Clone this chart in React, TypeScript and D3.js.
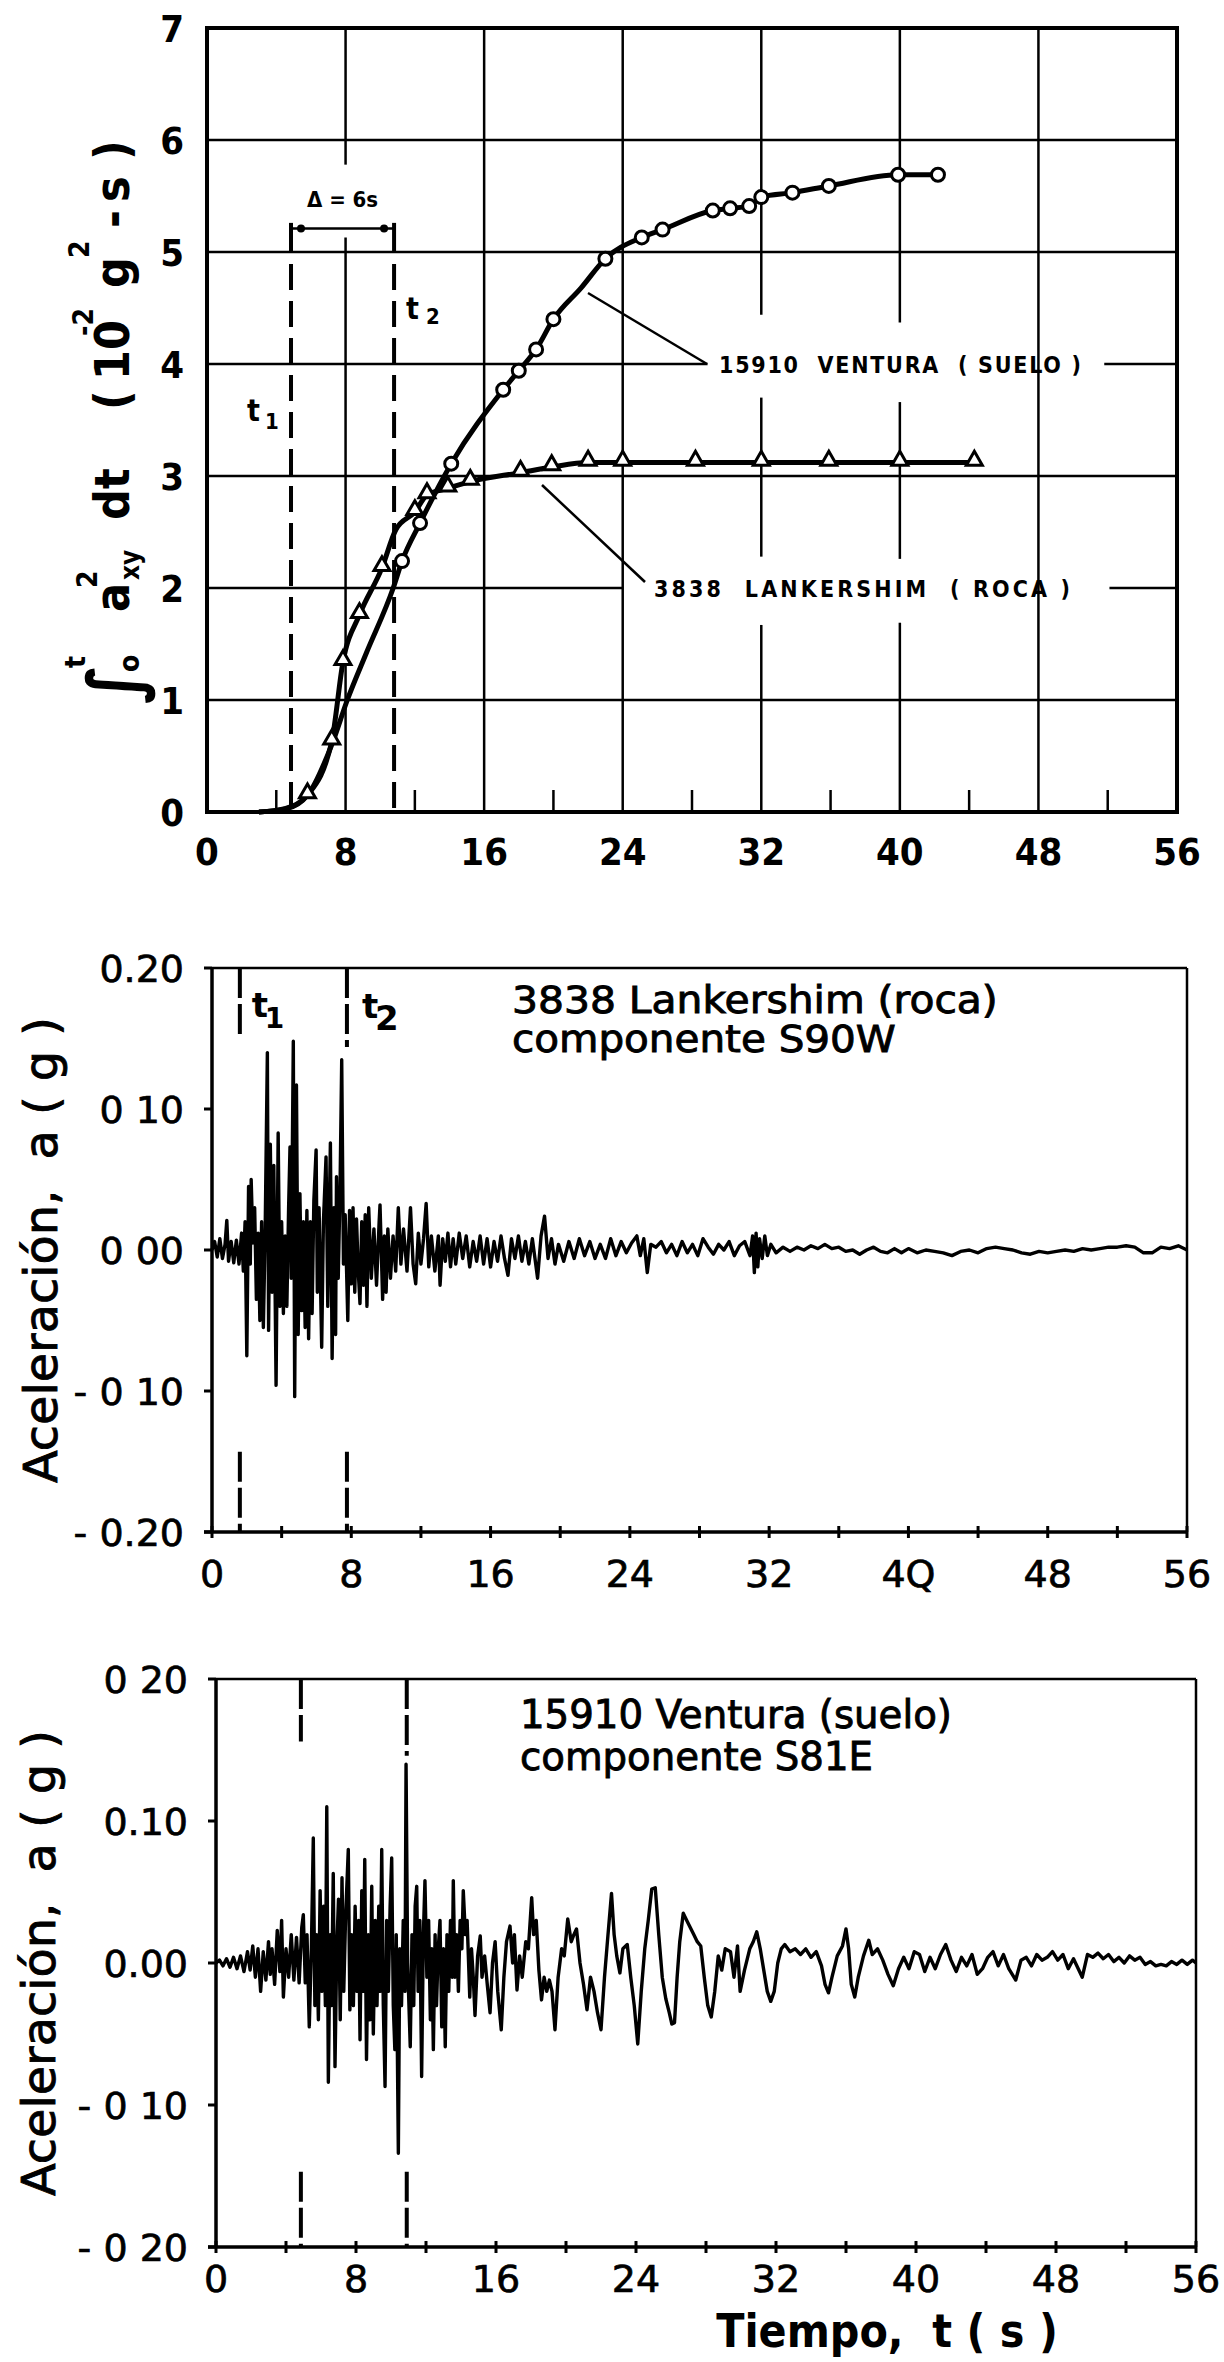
import React, { useEffect, useRef } from "react";
import * as d3 from "d3";

// ---------- top panel: integral of a^2 (10^-2 g^2 s) ----------
const venturaT = [3.0, 4.5, 5.8, 7.2, 8.1, 9.2, 10.75, 11.26, 12.3, 14.1, 17.1, 18.0, 19.0, 20.0, 21.6, 23.0, 25.1, 26.3, 29.2, 30.2, 31.3, 32.0, 33.8, 35.9, 39.9, 42.2];
const venturaV = [0, 0.03, 0.15, 0.6, 1.0, 1.42, 2.0, 2.24, 2.58, 3.11, 3.77, 3.94, 4.13, 4.4, 4.68, 4.94, 5.13, 5.2, 5.37, 5.39, 5.41, 5.49, 5.53, 5.59, 5.69, 5.69];
const venturaMarkT = [11.26, 12.3, 14.1, 17.1, 18.0, 19.0, 20.0, 23.0, 25.1, 26.3, 29.2, 30.2, 31.3, 32.0, 33.8, 35.9, 39.9, 42.2];
const venturaMarkV = [2.24, 2.58, 3.11, 3.77, 3.94, 4.13, 4.4, 4.94, 5.13, 5.2, 5.37, 5.39, 5.41, 5.49, 5.53, 5.59, 5.69, 5.69];

const lankT = [3.0, 4.6, 5.8, 7.2, 7.85, 8.8, 10.1, 10.9, 12.0, 12.7, 13.9, 15.2, 18.1, 19.9, 22.0, 24.0, 28.2, 32.0, 35.9, 40.0, 44.3];
const lankV = [0, 0.03, 0.15, 0.63, 1.34, 1.76, 2.18, 2.52, 2.68, 2.83, 2.89, 2.95, 3.03, 3.08, 3.12, 3.12, 3.12, 3.12, 3.12, 3.12, 3.12];
const lankMarkT = [5.8, 7.2, 7.85, 8.8, 10.1, 12.0, 12.7, 13.9, 15.2, 18.1, 19.9, 22.0, 24.0, 28.2, 32.0, 35.9, 40.0, 44.3];
const lankMarkV = [0.15, 0.63, 1.34, 1.76, 2.18, 2.68, 2.83, 2.89, 2.95, 3.03, 3.08, 3.12, 3.12, 3.12, 3.12, 3.12, 3.12, 3.12];

const topXTicks = [0, 8, 16, 24, 32, 40, 48, 56];
const topXLabels = ["0", "8", "16", "24", "32", "40", "48", "56"];
const topYTicks = [0, 1, 2, 3, 4, 5, 6, 7];
const topMinorTicks = [4, 12, 20, 28, 36, 44, 52];
const topT1T2 = [4.85, 10.8];

// ---------- accelerograms ----------
const accTicks = [0.2, 0.1, 0, -0.1, -0.2];
const midYLabels = ["0.20", "0 10", "0 00", "- 0 10", "- 0.20"];
const botYLabels = ["0 20", "0.10", "0.00", "- 0 10", "- 0 20"];
const midXLabels = ["0", "8", "16", "24", "32", "4Q", "48", "56"];
const botXLabels = ["0", "8", "16", "24", "32", "40", "48", "56"];
const minorT = [4, 12, 20, 28, 36, 44, 52];
const midT1T2 = [1.6, 7.75];
const botT1T2 = [4.85, 10.9];

// 3838 Lankershim, S90W
const lankAccT = [
  0, 0.15, 0.3, 0.45, 0.6, 0.75, 0.85, 0.95, 1.1, 1.25, 1.4, 1.55, 1.7, 1.8, 1.9, 2.0, 2.1, 2.2, 2.25, 2.35,
  2.45, 2.55, 2.65, 2.75, 2.85, 2.95, 3.05, 3.18, 3.25, 3.35, 3.45, 3.55, 3.68, 3.8, 3.9, 4.0, 4.1, 4.2, 4.3, 4.4,
  4.48, 4.55, 4.67, 4.75, 4.85, 4.95, 5.05, 5.15, 5.25, 5.35, 5.45, 5.55, 5.65, 5.75, 5.85, 5.98, 6.05, 6.15, 6.3, 6.4,
  6.55, 6.65, 6.8, 6.9, 7.0, 7.1, 7.15, 7.25, 7.35, 7.45, 7.55, 7.65, 7.8, 7.9, 8.0, 8.1, 8.2, 8.3, 8.4, 8.5,
  8.6, 8.7, 8.8, 8.9, 9.0, 9.15, 9.3, 9.45, 9.6, 9.65, 9.8, 9.9, 10.0, 10.1, 10.25, 10.4, 10.55, 10.7, 10.85, 11.0,
  11.2, 11.4, 11.55, 11.7, 11.85, 12.0, 12.15, 12.3, 12.45, 12.6, 12.8, 13.0, 13.1, 13.25, 13.4, 13.55, 13.7, 13.85, 14.0, 14.2,
  14.4, 14.6, 14.8, 15.0, 15.2, 15.4, 15.6, 15.8, 16.0, 16.2, 16.4, 16.6, 16.8, 17.0, 17.2, 17.4, 17.6, 17.8, 18.0, 18.2,
  18.4, 18.7, 18.9, 19.1, 19.3, 19.5, 19.7, 19.9, 20.2, 20.5, 20.8, 21.1, 21.4, 21.7, 22.0, 22.3, 22.6, 22.9, 23.2, 23.5,
  23.8, 24.1, 24.4, 24.6, 24.8, 25.0, 25.2, 25.5, 25.8, 26.1, 26.4, 26.7, 27.0, 27.3, 27.6, 27.9, 28.2, 28.5, 28.8, 29.1,
  29.4, 29.7, 30.0, 30.3, 30.6, 30.9, 31.05, 31.15, 31.25, 31.35, 31.45, 31.6, 31.75, 31.9, 32.1, 32.4, 32.8, 33.2, 33.6, 34.0,
  34.4, 34.8, 35.2, 35.6, 36.0, 36.4, 36.8, 37.2, 37.6, 38.0, 38.4, 38.8, 39.2, 39.6, 40.0, 40.5, 41.0, 41.5, 42.0, 42.5,
  43.0, 43.5, 44.0, 44.5, 45.0, 45.5, 46.0, 46.5, 47.0, 47.5, 48.0, 48.5, 49.0, 49.5, 50.0, 50.5, 51.0, 51.5, 52.0, 52.5,
  53.0, 53.5, 54.0, 54.5, 55.0, 55.5, 56.0,
];
const lankAccA = [
  0, 0.006, -0.005, 0.008, -0.006, 0.004, 0.021, -0.008, 0.006, -0.009, 0.007, -0.01, 0.012, -0.015, 0.02, -0.075, 0.045, -0.01, 0.05, 0.005,
  0.03, -0.035, 0.012, -0.05, 0.02, -0.055, 0.01, 0.14, -0.057, 0.075, -0.03, 0.06, -0.096, 0.083, -0.04, 0.02, -0.045, 0.01, -0.04, 0.03,
  0.073, -0.02, 0.148, -0.104, 0.117, -0.06, 0.04, -0.043, 0.02, -0.055, 0.028, -0.063, 0.02, -0.045, 0.035, 0.071, -0.03, 0.03, -0.069, 0.02,
  0.066, -0.04, 0.076, -0.077, 0.03, -0.06, 0.052, -0.02, 0.04, 0.135, -0.01, 0.025, -0.05, 0.028, -0.024, 0.03, -0.03, 0.022, -0.015, -0.038,
  0.02, -0.025, 0.025, -0.04, 0.03, -0.02, 0.015, -0.025, 0.02, 0.032, -0.035, 0.01, -0.03, 0.015, -0.02, 0.01, -0.015, 0.03, -0.01, 0.015,
  -0.015, 0.03, -0.01, -0.024, 0.012, -0.01, 0.008, 0.033, -0.012, 0.01, -0.015, 0.01, -0.025, 0.008, -0.008, 0.012, -0.012, 0.008, -0.01, 0.012,
  -0.006, 0.01, -0.012, 0.006, -0.008, 0.01, -0.01, 0.008, -0.012, 0.006, -0.008, 0.01, -0.006, -0.018, 0.008, -0.006, 0.01, -0.008, 0.006, -0.01,
  0.008, -0.02, 0.01, 0.024, -0.006, 0.008, -0.01, 0.004, -0.008, 0.006, -0.006, 0.008, -0.004, 0.006, -0.006, 0.004, -0.006, 0.008, -0.004, 0.006,
  -0.002, 0.005, 0.01, -0.004, 0.008, -0.016, 0.004, 0.002, 0.006, -0.002, 0.004, -0.004, 0.006, -0.002, 0.004, -0.004, 0.008, 0.002, -0.003, 0.004,
  0, 0.006, -0.004, 0.003, 0.006, -0.004, 0.01, -0.016, 0.012, -0.012, 0.008, -0.006, 0.01, -0.004, 0.004, -0.002, 0.002, -0.001, 0.002, 0,
  0.003, 0.001, 0.004, 0.001, 0.002, -0.001, 0, -0.003, 0, 0.002, -0.001, -0.002, 0.001, -0.002, 0.001, -0.002, 0, -0.001, -0.002, -0.004,
  -0.001, 0, -0.002, 0.001, 0.002, 0.001, 0, -0.002, -0.003, -0.001, -0.002, -0.001, 0, -0.001, 0.001, 0, 0.001, 0.002, 0.002, 0.003,
  0.002, -0.002, -0.002, 0.002, 0.001, 0.003, 0,
];

// 15910 Ventura, S81E
const ventAccT = [
  0, 0.2, 0.4, 0.6, 0.8, 1.0, 1.2, 1.4, 1.6, 1.8, 1.95, 2.1, 2.25, 2.4, 2.55, 2.7, 2.85, 3.0, 3.1, 3.2,
  3.35, 3.5, 3.65, 3.75, 3.85, 4.0, 4.15, 4.3, 4.45, 4.6, 4.75, 4.9, 4.99, 5.1, 5.2, 5.33, 5.45, 5.56, 5.65, 5.75,
  5.85, 5.95, 6.05, 6.15, 6.25, 6.33, 6.42, 6.52, 6.6, 6.7, 6.8, 6.9, 7.0, 7.1, 7.2, 7.3, 7.4, 7.56, 7.65, 7.75,
  7.85, 7.95, 8.05, 8.15, 8.23, 8.33, 8.42, 8.5, 8.6, 8.7, 8.8, 8.9, 8.99, 9.1, 9.2, 9.3, 9.38, 9.47, 9.56, 9.66,
  9.75, 9.85, 9.95, 10.04, 10.13, 10.22, 10.3, 10.42, 10.5, 10.6, 10.7, 10.8, 10.86, 10.95, 11.1, 11.2, 11.3, 11.38, 11.47, 11.55,
  11.65, 11.75, 11.85, 11.94, 12.05, 12.15, 12.25, 12.33, 12.42, 12.52, 12.6, 12.7, 12.8, 12.9, 13.0, 13.1, 13.2, 13.3, 13.4, 13.5,
  13.56, 13.65, 13.75, 13.85, 13.95, 14.05, 14.13, 14.25, 14.35, 14.5, 14.6, 14.7, 14.8, 14.95, 15.1, 15.2, 15.35, 15.5, 15.66, 15.8,
  15.95, 16.1, 16.3, 16.45, 16.6, 16.8, 16.95, 17.05, 17.2, 17.35, 17.5, 17.7, 17.85, 18.04, 18.15, 18.3, 18.45, 18.6, 18.75, 18.9,
  19.05, 19.2, 19.37, 19.55, 19.75, 19.9, 20.1, 20.3, 20.45, 20.6, 20.8, 21.0, 21.2, 21.4, 21.6, 21.8, 22.0, 22.2, 22.4, 22.6,
  22.75, 22.9, 23.08, 23.25, 23.5, 23.7, 23.9, 24.1, 24.3, 24.5, 24.7, 24.9, 25.1, 25.3, 25.5, 25.7, 25.9, 26.05, 26.2, 26.35,
  26.5, 26.7, 26.9, 27.1, 27.3, 27.5, 27.7, 27.9, 28.1, 28.3, 28.5, 28.7, 28.9, 29.1, 29.4, 29.6, 29.8, 29.95, 30.2, 30.5,
  30.7, 30.9, 31.1, 31.3, 31.5, 31.7, 31.9, 32.1, 32.3, 32.5, 32.8, 33.1, 33.4, 33.7, 34.0, 34.3, 34.6, 34.8, 35.0, 35.2,
  35.5, 35.8, 36.0, 36.15, 36.3, 36.5, 36.7, 37.0, 37.3, 37.5, 37.8, 38.1, 38.4, 38.7, 39.0, 39.3, 39.6, 39.9, 40.2, 40.5,
  40.8, 41.1, 41.4, 41.7, 42.0, 42.3, 42.6, 42.9, 43.2, 43.5, 43.8, 44.1, 44.4, 44.7, 45.0, 45.3, 45.7, 46.0, 46.3, 46.6,
  46.9, 47.2, 47.5, 47.8, 48.1, 48.4, 48.7, 49.0, 49.5, 49.8, 50.1, 50.4, 50.7, 51.0, 51.3, 51.6, 51.9, 52.2, 52.5, 52.8,
  53.1, 53.4, 53.7, 54.0, 54.3, 54.6, 54.9, 55.2, 55.5, 55.8, 56.0,
];
const ventAccA = [
  0, 0.002, -0.002, 0.003, -0.003, 0.004, -0.004, 0.005, -0.006, 0.008, -0.005, 0.012, -0.01, 0.01, -0.02, 0.008, -0.012, 0.015, -0.008, 0.01,
  -0.015, 0.023, -0.006, 0.03, -0.024, 0.01, -0.01, 0.02, -0.012, 0.018, -0.014, 0.025, 0.034, -0.014, 0.02, -0.045, 0.01, 0.088, -0.03, 0.02,
  -0.04, 0.051, -0.02, 0.04, -0.03, 0.11, -0.084, 0.02, -0.03, 0.063, -0.073, 0.01, 0.045, -0.04, 0.06, -0.02, 0.03, 0.08, -0.033, 0.02,
  -0.03, 0.04, -0.02, 0.03, -0.054, 0.051, -0.02, 0.073, -0.068, 0.02, -0.04, 0.054, -0.05, 0.03, -0.03, 0.04, -0.02, 0.08, -0.03, -0.087,
  0.03, -0.02, 0.04, 0.074, -0.03, -0.061, 0.02, -0.134, 0.01, -0.03, 0.03, -0.02, 0.14, 0, -0.059, 0.02, -0.03, 0.04, 0.054, -0.02,
  0.03, -0.08, 0.02, 0.058, -0.01, 0.03, -0.04, 0.01, -0.061, 0.02, -0.03, 0.01, 0.03, -0.045, 0.01, -0.059, 0.02, -0.02, 0.03, -0.01,
  0.058, -0.01, 0.02, -0.02, 0.03, 0.01, 0.051, 0.02, 0.03, -0.024, 0.01, -0.01, -0.037, 0.005, 0.019, -0.01, 0.005, -0.015, -0.035, 0,
  0.015, -0.02, -0.047, -0.01, 0.015, 0.026, 0, 0.02, -0.019, 0.005, -0.01, 0.015, 0.01, 0.046, 0.02, 0.03, -0.005, -0.026, -0.01, -0.02,
  -0.012, -0.02, -0.047, -0.01, 0.01, 0.005, 0.031, 0.015, 0.02, 0.024, 0, -0.015, -0.033, -0.01, -0.02, -0.035, -0.047, -0.01, 0.02, 0.049,
  0.02, 0.005, -0.007, 0.01, 0.013, -0.01, -0.03, -0.057, -0.02, 0.01, 0.03, 0.052, 0.053, 0.02, -0.01, -0.025, -0.035, -0.043, -0.042, -0.01,
  0.015, 0.035, 0.03, 0.025, 0.02, 0.015, 0.012, -0.01, -0.03, -0.038, -0.02, 0.005, -0.005, 0.01, 0.008, -0.01, 0.012, -0.02, -0.005, 0.01,
  0.015, 0.022, 0.01, -0.005, -0.02, -0.027, -0.02, 0, 0.01, 0.013, 0.008, 0.01, 0.006, 0.01, 0.004, 0.008, -0.002, -0.015, -0.021, -0.01,
  0.005, 0.012, 0.024, 0.01, -0.015, -0.024, -0.01, 0.005, 0.016, 0.006, 0.01, 0.002, -0.008, -0.016, -0.004, 0.004, -0.004, 0.008, 0.006, -0.006,
  0.004, -0.004, 0.006, 0.013, 0.002, -0.006, 0.004, -0.002, 0.006, -0.008, -0.004, 0.004, 0.008, -0.002, 0.006, -0.004, -0.012, 0.002, 0.004, -0.002,
  0.006, 0.002, 0.004, 0.008, 0.002, 0.006, -0.004, 0.003, -0.01, 0.006, 0.004, 0.007, 0.003, 0.006, 0.001, 0.004, 0, 0.005, 0.002, 0.004,
  -0.001, 0.001, -0.002, -0.001, -0.002, 0.001, -0.001, 0.002, -0.001, 0.002, 0,
];

const STENCIL = "'DejaVu Sans Condensed', 'DejaVu Sans', sans-serif";
const GEO = "'DejaVu Sans', sans-serif";

type Sel = d3.Selection<SVGSVGElement, unknown, null, undefined>;
type GSel = d3.Selection<SVGGElement, unknown, null, undefined>;

// stretch a text horizontally (in its own frame) so it spans `target` px
function fitWidth(
  parent: GSel, s: string, x: number, y: number, target: number,
  size: number, family: string, rotate = false, anchorMid = false
) {
  const outer = parent.append("g").attr("transform", `translate(${x},${y})${rotate ? " rotate(-90)" : ""}`);
  const inner = outer.append("g");
  const t = inner.append("text").attr("x", 0).attr("y", 0).attr("font-family", family).attr("font-size", size)
    .attr("fill", "#000").attr("stroke", "#000").attr("stroke-width", 0.9)
    .style("white-space", "pre").text(s);
  const node = t.node() as SVGTextElement;
  let w = 0;
  try { w = node.getComputedTextLength(); } catch (e) { w = 0; }
  const k = w > 0 ? target / w : 1;
  const shift = anchorMid ? -target / 2 : 0;
  inner.attr("transform", `translate(${shift},0) scale(${k},1)`);
}

function drawEnergy(svg: Sel) {
  const x = d3.scaleLinear().domain([0, 56]).range([207, 1177]);
  const y = d3.scaleLinear().domain([0, 7]).range([812, 28]);
  const g = svg.append("g");

  // grid with the gaps left for labels
  const vGrid: [number, number[][]][] = [
    [8, [[0, 5.13], [5.78, 7]]],
    [16, [[0, 7]]],
    [24, [[0, 7]]],
    [32, [[0, 1.67], [2.28, 3.7], [4.44, 7]]],
    [40, [[0, 1.69], [2.26, 3.66], [4.37, 7]]],
    [48, [[0, 7]]],
  ];
  vGrid.forEach(([t, segs]) =>
    segs.forEach(([a, b]) =>
      g.append("line").attr("x1", x(t)).attr("x2", x(t)).attr("y1", y(a)).attr("y2", y(b))
        .attr("stroke", "#000").attr("stroke-width", 2.5)
    )
  );
  const hGrid: [number, number[][]][] = [
    [1, [[0, 56]]],
    [2, [[0, 24], [52.1, 56]]],
    [3, [[0, 56]]],
    [4, [[0, 28.9], [51.8, 56]]],
    [5, [[0, 56]]],
    [6, [[0, 56]]],
  ];
  hGrid.forEach(([v, segs]) =>
    segs.forEach(([a, b]) =>
      g.append("line").attr("x1", x(a)).attr("x2", x(b)).attr("y1", y(v)).attr("y2", y(v))
        .attr("stroke", "#000").attr("stroke-width", 2.5)
    )
  );

  g.selectAll(".minor").data(topMinorTicks).enter().append("line")
    .attr("x1", (d) => x(d)).attr("x2", (d) => x(d)).attr("y1", y(0)).attr("y2", y(0) - 22)
    .attr("stroke", "#000").attr("stroke-width", 2.5);

  g.append("rect").attr("x", x(0)).attr("y", y(7)).attr("width", x(56) - x(0)).attr("height", y(0) - y(7))
    .attr("fill", "none").attr("stroke", "#000").attr("stroke-width", 4);

  // t1, t2 dashed and the bracket
  topT1T2.forEach((t) => {
    g.append("line").attr("x1", x(t)).attr("x2", x(t)).attr("y1", y(5) + 12).attr("y2", y(0))
      .attr("stroke", "#000").attr("stroke-width", 4).attr("stroke-dasharray", "26,11");
    g.append("line").attr("x1", x(t)).attr("x2", x(t)).attr("y1", y(5)).attr("y2", y(5.26))
      .attr("stroke", "#000").attr("stroke-width", 4);
    g.append("circle").attr("cx", x(t) + (t === topT1T2[0] ? 10 : -10)).attr("cy", y(5.21)).attr("r", 4).attr("fill", "#000");
  });
  g.append("line").attr("x1", x(topT1T2[0])).attr("x2", x(topT1T2[1])).attr("y1", y(5.21)).attr("y2", y(5.21))
    .attr("stroke", "#000").attr("stroke-width", 2.5);
  g.append("text").attr("x", (x(topT1T2[0]) + x(topT1T2[1])) / 2).attr("y", 207)
    .attr("text-anchor", "middle").attr("font-family", STENCIL).attr("font-weight", "bold").attr("font-size", 22)
    .text("Δ = 6s");

  const tLab = (xx: number, yy: number, sub: string, sx: number, sy: number) => {
    g.append("text").attr("x", xx).attr("y", yy).attr("font-family", STENCIL).attr("font-weight", "bold")
      .attr("font-size", 30).text("t");
    g.append("text").attr("x", sx).attr("y", sy).attr("font-family", STENCIL).attr("font-weight", "bold")
      .attr("font-size", 22).text(sub);
  };
  tLab(247, 421, "1", 265, 429);
  tLab(406, 319, "2", 426, 324);

  // curves
  const line = d3.line<[number, number]>().x((d) => x(d[0])).y((d) => y(d[1])).curve(d3.curveMonotoneX);
  g.append("path").datum(d3.zip(lankT, lankV) as [number, number][]).attr("d", line)
    .attr("fill", "none").attr("stroke", "#000").attr("stroke-width", 5);
  g.append("path").datum(d3.zip(venturaT, venturaV) as [number, number][]).attr("d", line)
    .attr("fill", "none").attr("stroke", "#000").attr("stroke-width", 5);

  const tri = d3.symbol().type(d3.symbolTriangle).size(110);
  g.selectAll(".tri").data(d3.zip(lankMarkT, lankMarkV)).enter().append("path")
    .attr("d", tri).attr("transform", (d) => `translate(${x(d[0])},${y(d[1]) - 2})`)
    .attr("fill", "#fff").attr("stroke", "#000").attr("stroke-width", 3);
  g.selectAll(".circ").data(d3.zip(venturaMarkT, venturaMarkV)).enter().append("circle")
    .attr("cx", (d) => x(d[0])).attr("cy", (d) => y(d[1])).attr("r", 6.5)
    .attr("fill", "#fff").attr("stroke", "#000").attr("stroke-width", 3);

  // leaders and labels
  g.append("line").attr("x1", 588).attr("y1", 293).attr("x2", 707).attr("y2", y(4))
    .attr("stroke", "#000").attr("stroke-width", 2.5);
  g.append("line").attr("x1", 542).attr("y1", 485).attr("x2", 645).attr("y2", 582)
    .attr("stroke", "#000").attr("stroke-width", 2.5);
  g.append("text").attr("x", 719).attr("y", y(4) + 9).attr("font-family", STENCIL).attr("font-weight", "bold")
    .attr("font-size", 23).attr("textLength", 362).attr("lengthAdjust", "spacing")
    .style("white-space", "pre").text("15910  VENTURA  ( SUELO )");
  g.append("text").attr("x", 654).attr("y", y(2) + 9).attr("font-family", STENCIL).attr("font-weight", "bold")
    .attr("font-size", 23).attr("textLength", 416).attr("lengthAdjust", "spacing")
    .style("white-space", "pre").text("3838  LANKERSHIM  ( ROCA )");

  // tick labels
  g.selectAll(".xl").data(topXTicks).enter().append("text")
    .attr("x", (d) => x(d)).attr("y", 865).attr("text-anchor", "middle")
    .attr("font-family", STENCIL).attr("font-weight", "bold").attr("font-size", 38)
    .text((d, i) => topXLabels[i]);
  g.selectAll(".yl").data(topYTicks).enter().append("text")
    .attr("x", 184).attr("y", (d) => y(d) + 14).attr("text-anchor", "end")
    .attr("font-family", STENCIL).attr("font-weight", "bold").attr("font-size", 38)
    .text((d) => String(d));

  // rotated y-axis title: ∫0^t a²xy dt (10^-2 g² - s)
  const yl = g.append("g").attr("transform", "translate(129,700) rotate(-90)")
    .attr("font-family", STENCIL).attr("font-weight", "bold");
  const piece = (s: string, u: number, v: number, size: number) =>
    yl.append("text").attr("x", u).attr("y", v).attr("font-size", size).text(s);
  piece("∫", -4, 10, 72);
  piece("t", 32, -44, 28);
  piece("o", 28, 10, 28);
  piece("a", 88, 0, 48);
  piece("2", 112, -32, 28);
  piece("xy", 120, 10, 26);
  piece("dt", 180, 0, 48);
  piece("(", 290, 0, 48);
  piece("10", 320, 0, 48);
  piece("-2", 364, -36, 28);
  piece("g", 412, 0, 48);
  piece("2", 442, -40, 28);
  piece("-", 472, 0, 48);
  piece("s", 498, 0, 48);
  piece(")", 540, 0, 48);
}

type RecOpts = {
  x0: number; x1: number; yTop: number; yBot: number;
  t: number[]; a: number[]; yLabels: string[]; xLabels: string[];
  t12: number[]; dashTop: number[]; dashBot: number;
  title: string[]; titleX: number; titleY: number[]; titleSize: number; titleLen: number[];
  labBase: number; xLabBase: number;
  tSubs: boolean;
};

function drawRecord(svg: Sel, o: RecOpts) {
  const x = d3.scaleLinear().domain([0, 56]).range([o.x0, o.x1]);
  const y = d3.scaleLinear().domain([-0.2, 0.2]).range([o.yBot, o.yTop]);
  const g = svg.append("g") as GSel;

  // frame: top/right thin, left/bottom heavier
  g.append("line").attr("x1", x(0)).attr("x2", x(56)).attr("y1", y(0.2)).attr("y2", y(0.2)).attr("stroke", "#000").attr("stroke-width", 2.5);
  g.append("line").attr("x1", x(56)).attr("x2", x(56)).attr("y1", y(0.2)).attr("y2", y(-0.2)).attr("stroke", "#000").attr("stroke-width", 2.5);
  g.append("line").attr("x1", x(0)).attr("x2", x(0)).attr("y1", y(0.2) - 1).attr("y2", y(-0.2) + 1).attr("stroke", "#000").attr("stroke-width", 3.5);
  g.append("line").attr("x1", x(0) - 8).attr("x2", x(56)).attr("y1", y(-0.2)).attr("y2", y(-0.2)).attr("stroke", "#000").attr("stroke-width", 3.5);

  g.selectAll(".yt").data(accTicks).enter().append("line")
    .attr("x1", x(0) - 8).attr("x2", x(0)).attr("y1", (d) => y(d)).attr("y2", (d) => y(d))
    .attr("stroke", "#000").attr("stroke-width", 3);
  g.selectAll(".xt").data(topXTicks.concat(minorT)).enter().append("line")
    .attr("x1", (d) => x(d)).attr("x2", (d) => x(d)).attr("y1", y(-0.2) - 6).attr("y2", y(-0.2) + 6)
    .attr("stroke", "#000").attr("stroke-width", 3);

  // dashed t1 / t2 marks
  o.t12.forEach((t, i) => {
    g.append("line").attr("x1", x(t)).attr("x2", x(t)).attr("y1", y(0.2)).attr("y2", y(o.dashTop[i]))
      .attr("stroke", "#000").attr("stroke-width", 4).attr("stroke-dasharray", "30,6");
    g.append("line").attr("x1", x(t)).attr("x2", x(t)).attr("y1", y(o.dashBot)).attr("y2", y(-0.2))
      .attr("stroke", "#000").attr("stroke-width", 4).attr("stroke-dasharray", "30,6");
  });

  const line = d3.line<[number, number]>().x((d) => x(d[0])).y((d) => y(d[1]));
  g.append("path").datum(d3.zip(o.t, o.a) as [number, number][]).attr("d", line)
    .attr("fill", "none").attr("stroke", "#000").attr("stroke-width", 3.4).attr("stroke-linejoin", "round");

  // labels
  g.selectAll(".yl").data(accTicks).enter().append("text")
    .attr("x", o.x0 - 28).attr("y", (d) => y(d) + 14).attr("text-anchor", "end")
    .attr("font-family", GEO).attr("font-size", 38).attr("stroke", "#000").attr("stroke-width", 0.7)
    .style("white-space", "pre")
    .text((d, i) => o.yLabels[i]);
  g.selectAll(".xl").data(topXTicks).enter().append("text")
    .attr("x", (d) => x(d)).attr("y", o.xLabBase).attr("text-anchor", "middle")
    .attr("font-family", GEO).attr("font-size", 38).attr("stroke", "#000").attr("stroke-width", 0.7)
    .text((d, i) => o.xLabels[i]);

  o.title.forEach((s, i) => fitWidth(g, s, o.titleX, o.titleY[i], o.titleLen[i], o.titleSize, GEO));

  fitWidth(g, "Aceleración,  a ( g )", o.labBase, y(0), 466, 47, GEO, true, true);

  if (o.tSubs) {
    const [a, b] = o.t12;
    g.append("text").attr("x", x(a) + 12).attr("y", y(0.2) + 49).attr("font-family", GEO).attr("font-weight", "bold").attr("font-size", 34).text("t");
    g.append("text").attr("x", x(a) + 25).attr("y", y(0.2) + 60).attr("font-family", GEO).attr("font-weight", "bold").attr("font-size", 28).text("1");
    g.append("text").attr("x", x(b) + 15).attr("y", y(0.2) + 50).attr("font-family", GEO).attr("font-weight", "bold").attr("font-size", 34).text("t");
    g.append("text").attr("x", x(b) + 28).attr("y", y(0.2) + 62).attr("font-family", GEO).attr("font-weight", "bold").attr("font-size", 34).text("2");
  }
}

export default function App() {
  const svgRef = useRef<SVGSVGElement>(null);

  useEffect(() => {
    const svg = d3.select(svgRef.current as SVGSVGElement) as Sel;
    svg.selectAll("*").remove();
    drawEnergy(svg);
    drawRecord(svg, {
      x0: 212, x1: 1187, yTop: 968, yBot: 1532,
      t: lankAccT, a: lankAccA, yLabels: midYLabels, xLabels: midXLabels,
      t12: midT1T2, dashTop: [0.149, 0.144], dashBot: -0.143,
      title: ["3838 Lankershim (roca)", "componente S90W"], titleX: 512, titleY: [1013, 1052], titleSize: 37,
      titleLen: [486, 384],
      labBase: 57, xLabBase: 1587, tSubs: true,
    });
    drawRecord(svg, {
      x0: 216, x1: 1196, yTop: 1679, yBot: 2247,
      t: ventAccT, a: ventAccA, yLabels: botYLabels, xLabels: botXLabels,
      t12: botT1T2, dashTop: [0.156, 0.146], dashBot: -0.147,
      title: ["15910 Ventura (suelo)", "componente S81E"], titleX: 520, titleY: [1728, 1770], titleSize: 39,
      titleLen: [432, 353],
      labBase: 55, xLabBase: 2292, tSubs: false,
    });
    svg.append("text").attr("x", 887).attr("y", 2347).attr("text-anchor", "middle")
      .attr("font-family", STENCIL).attr("font-weight", "bold").attr("font-size", 46)
      .style("white-space", "pre").text("Tiempo,  t ( s )");
  }, []);

  return (
    <svg
      ref={svgRef}
      width={1224}
      height={2362}
      style={{ position: "absolute", left: 0, top: 0, background: "#fff" }}
    />
  );
}
